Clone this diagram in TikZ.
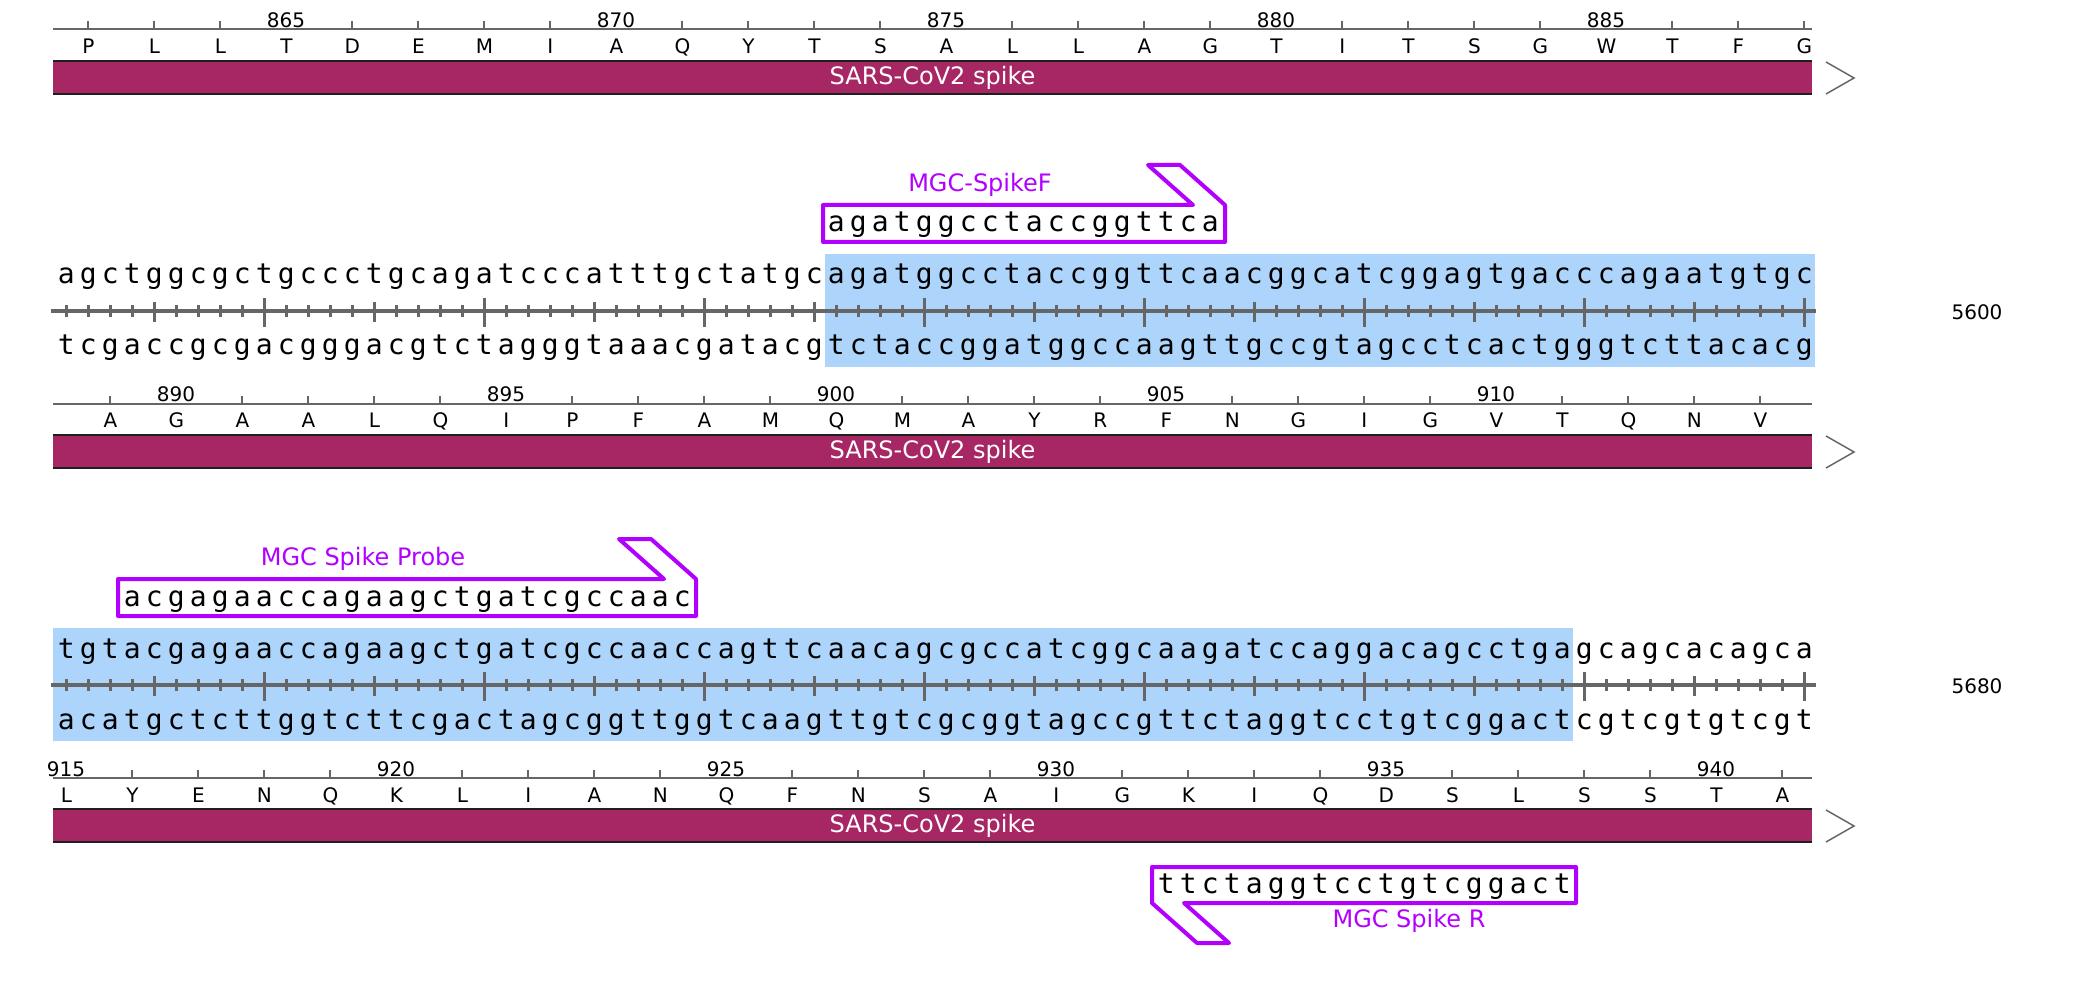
\documentclass[tikz,border=0pt]{standalone}
\usepackage{fontspec}
\setmainfont{DejaVu Sans}
\newfontfamily\seqfont{DejaVu Sans Mono}

\definecolor{spike}{RGB}{167,39,100}
\definecolor{hilite}{RGB}{173,213,252}
\definecolor{primer}{RGB}{178,0,255}
\definecolor{rulergray}{RGB}{102,102,102}

% one letter per fixed-width cell
\makeatletter
\newcommand\cells[2]{\@tfor\c@ll:=#2\do{\makebox[#1]{\c@ll}}}
\makeatother

\tikzset{
  seq/.style={font=\seqfont\fontsize{14pt}{14pt}\selectfont, inner sep=0pt, anchor=base west},
  aa/.style={font=\fontsize{10pt}{10pt}\selectfont, inner sep=0pt, anchor=base west},
  num/.style={font=\fontsize{10pt}{10pt}\selectfont, inner sep=0pt, anchor=base},
  bartext/.style={font=\fontsize{12pt}{12pt}\selectfont, text=white, inner sep=0pt},
  featlabel/.style={font=\fontsize{12pt}{12pt}\selectfont, text=primer, inner sep=0pt},
  primerbox/.style={draw=primer, line width=2pt, line join=round},
  aaruler/.style={draw=rulergray, line width=1pt},
  dnaruler/.style={draw=rulergray, line width=2pt},
  dnatick/.style={draw=rulergray, line width=1.5pt},
  barline/.style={draw=black!88, line width=1.25pt},
  barend/.style={draw=rulergray, line width=0.75pt},
}

\begin{document}
\begin{tikzpicture}[x=0.5pt, y=-0.5pt]
  \useasboundingbox[fill=white] (0,0) rectangle (2094,994);

  % translation 862-888
  \draw[aaruler] (53,29) -- (1812,29);
  \foreach \k in {0,...,26}{
    \pgfmathtruncatemacro\lab{mod(\k+2,5)}
    \pgfmathsetmacro\xx{44+22*(2+3*\k)}
    \ifnum\lab=0 \else \draw[aaruler] (\xx,29) -- ++(0,-8); \fi
  }
  \foreach \n [count=\j from 0] in {865,870,875,880,885}
    \node[num] (num\n) at ({44+22*(11+15*\j)},28) {\n};
  \node[aa] (aa1) at (55,54) {\cells{33pt}{PLLTDEMIAQYTSALLAGTITSGWTFG}};
  \fill[spike] (53,61) rectangle (1812,94);
  \draw[barline] (53,61) -- (1812,61) (53,94) -- (1812,94);
  \node[bartext] (spike1) at (932.5,77.5) {SARS-CoV2 spike};
  \draw[barend] (1826,62) -- (1854,78) -- (1826,94);

  % forward primer
  \draw[primerbox] (823,242) -- (823,205) -- (1193,205) -- (1148,165) -- (1180,165)
    -- (1225,205) -- (1225,242) -- cycle;
  \node[seq] (fwdseq) at (825,232) {\cells{11pt}{agatggcctaccggttca}};
  \node[featlabel] (fwdlabel) at (980,185) {MGC-SpikeF};

  % dna 5521-5600
  \fill[hilite] (825,254) rectangle (1815,367);
  \node[seq] (top1) at (55,284)
    {\cells{11pt}{agctggcgctgccctgcagatcccatttgctatgcagatggcctaccggttcaacggcatcggagtgacccagaatgtgc}};
  \draw[dnaruler] (51,311) -- (1816,311);
  \foreach \i in {1,...,80}{
    \pgfmathtruncatemacro\five{mod(\i,5)}
    \pgfmathtruncatemacro\ten{mod(\i,10)}
    \ifnum\ten=0 \draw[dnatick] (44+22*\i,298) -- (44+22*\i,327);
    \else\ifnum\five=0 \draw[dnatick] (44+22*\i,302) -- (44+22*\i,322);
    \else \draw[dnatick] (44+22*\i,305) -- (44+22*\i,317); \fi\fi
  }
  \node[seq] (bot1) at (55,355)
    {\cells{11pt}{tcgaccgcgacgggacgtctagggtaaacgatacgtctaccggatggccaagttgccgtagcctcactgggtcttacacg}};
  \node[num, anchor=center] (pos5600) at (1977,312) {5600};

  % translation 889-914
  \draw[aaruler] (53,404) -- (1812,404);
  \foreach \k in {0,...,25}{
    \pgfmathtruncatemacro\lab{mod(\k+4,5)}
    \pgfmathsetmacro\xx{44+22*(3+3*\k)}
    \ifnum\lab=0 \else \draw[aaruler] (\xx,404) -- ++(0,-8); \fi
  }
  \foreach \n [count=\j from 0] in {890,895,900,905,910}
    \node[num] (num\n) at ({44+22*(6+15*\j)},402) {\n};
  \node[aa] (aa2) at (77,428) {\cells{33pt}{AGAALQIPFAMQMAYRFNGIGVTQNV}};
  \fill[spike] (53,435) rectangle (1812,468);
  \draw[barline] (53,435) -- (1812,435) (53,468) -- (1812,468);
  \node[bartext] (spike2) at (932.5,451.5) {SARS-CoV2 spike};
  \draw[barend] (1826,436) -- (1854,452) -- (1826,468);

  % probe
  \draw[primerbox] (118,616) -- (118,579) -- (664,579) -- (619,539) -- (651,539)
    -- (696,579) -- (696,616) -- cycle;
  \node[seq] (probeseq) at (121,606) {\cells{11pt}{acgagaaccagaagctgatcgccaac}};
  \node[featlabel] (probelabel) at (363,559) {MGC Spike Probe};

  % dna 5601-5680
  \fill[hilite] (53,628) rectangle (1573,741);
  \node[seq] (top2) at (55,658)
    {\cells{11pt}{tgtacgagaaccagaagctgatcgccaaccagttcaacagcgccatcggcaagatccaggacagcctgagcagcacagca}};
  \draw[dnaruler] (51,685) -- (1816,685);
  \foreach \i in {1,...,80}{
    \pgfmathtruncatemacro\five{mod(\i,5)}
    \pgfmathtruncatemacro\ten{mod(\i,10)}
    \ifnum\ten=0 \draw[dnatick] (44+22*\i,672) -- (44+22*\i,701);
    \else\ifnum\five=0 \draw[dnatick] (44+22*\i,676) -- (44+22*\i,696);
    \else \draw[dnatick] (44+22*\i,679) -- (44+22*\i,691); \fi\fi
  }
  \node[seq] (bot2) at (55,729)
    {\cells{11pt}{acatgctcttggtcttcgactagcggttggtcaagttgtcgcggtagccgttctaggtcctgtcggactcgtcgtgtcgt}};
  \node[num, anchor=center] (pos5680) at (1977,686) {5680};

  % translation 915-941
  \draw[aaruler] (53,778) -- (1812,778);
  \foreach \k in {0,...,26}{
    \pgfmathtruncatemacro\lab{mod(\k,5)}
    \pgfmathsetmacro\xx{44+22*(1+3*\k)}
    \ifnum\lab=0 \else \draw[aaruler] (\xx,778) -- ++(0,-8); \fi
  }
  \foreach \n [count=\j from 0] in {915,920,925,930,935,940}
    \node[num] (num\n) at ({44+22*(1+15*\j)},776) {\n};
  \node[aa] (aa3) at (33,802) {\cells{33pt}{LYENQKLIANQFNSAIGKIQDSLSSTA}};
  \fill[spike] (53,809) rectangle (1812,842);
  \draw[barline] (53,809) -- (1812,809) (53,842) -- (1812,842);
  \node[bartext] (spike3) at (932.5,825.5) {SARS-CoV2 spike};
  \draw[barend] (1826,810) -- (1854,826) -- (1826,842);

  % reverse primer
  \draw[primerbox] (1152,867) -- (1576,867) -- (1576,903) -- (1184,903) -- (1229,943)
    -- (1197,943) -- (1152,903) -- cycle;
  \node[seq] (revseq) at (1155,893) {\cells{11pt}{ttctaggtcctgtcggact}};
  \node[featlabel] (revlabel) at (1409,921) {MGC Spike R};
\end{tikzpicture}
\end{document}
